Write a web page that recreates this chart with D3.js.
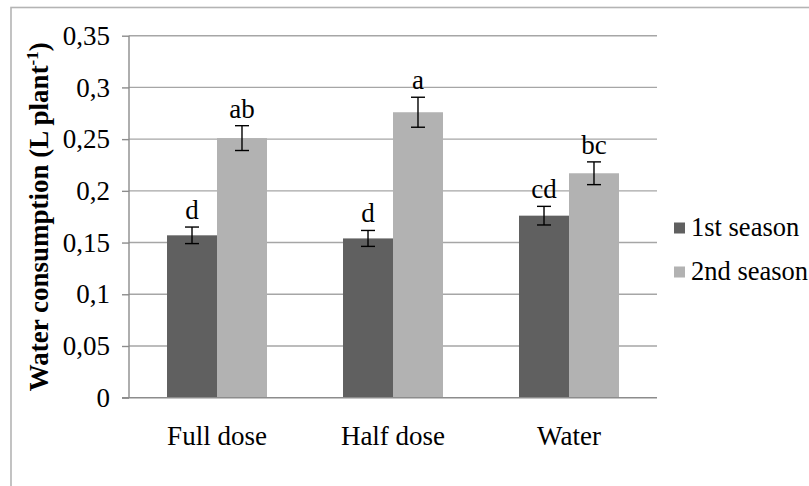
<!DOCTYPE html>
<html>
<head>
<meta charset="utf-8">
<script src="https://cdn.jsdelivr.net/npm/d3@7/dist/d3.min.js"></script>
<style>
  html, body { margin: 0; padding: 0; background: #fff; }
  svg { display: block; }
</style>
</head>
<body>
<svg id="chart" width="809" height="486" font-family="'Liberation Serif', serif"></svg>
<script>
const categories = ["Full dose", "Half dose", "Water"];
const seriesNames = ["1st season", "2nd season"];
const season1 = [0.157, 0.154, 0.176];
const season2 = [0.251, 0.276, 0.217];
const season1Err = [0.008, 0.0077, 0.009];
const season2Err = [0.012, 0.0145, 0.011];
const season1Letters = ["d", "d", "cd"];
const season2Letters = ["ab", "a", "bc"];
const yTicks = [0, 0.05, 0.1, 0.15, 0.2, 0.25, 0.3, 0.35];
const yTickLabels = ["0", "0,05", "0,1", "0,15", "0,2", "0,25", "0,3", "0,35"];
const colors = ["#606060", "#b2b2b2"];

(function () {
const FONT = "'Liberation Serif', serif";
const rows = categories.map((c, i) => ({
  cat: c,
  vals: [
    { s: seriesNames[0], v: season1[i], e: season1Err[i], l: season1Letters[i] },
    { s: seriesNames[1], v: season2[i], e: season2Err[i], l: season2Letters[i] }
  ]
}));

const svg = d3.select("#chart");
const pL = 129, pR = 657, pT = 35.7, pB = 397.7;

// outer frame
svg.append("rect").attr("x", 11).attr("y", 7.5).attr("width", 900).attr("height", 600)
  .attr("fill", "none").attr("stroke", "#b4b4b4").attr("stroke-width", 1.6);

const y = d3.scaleLinear().domain([0, 0.35]).range([pB, pT]);
const x0 = d3.scaleBand().domain(categories).range([pL, pR])
  .paddingInner(0.432).paddingOuter(0.216);
const x1 = d3.scaleBand().domain(seriesNames).range([0, x0.bandwidth()]);

// gridlines
svg.append("g").selectAll("line").data(yTicks.filter(t => t > 0)).join("line")
  .attr("x1", pL).attr("x2", pR)
  .attr("y1", d => y(d)).attr("y2", d => y(d))
  .attr("stroke", "#a6a6a6").attr("stroke-width", 1.4);

// y axis
const yAxis = d3.axisLeft(y).tickValues(yTicks)
  .tickFormat((d, i) => yTickLabels[i]).tickSize(7).tickPadding(12);
const gy = svg.append("g").attr("transform", `translate(${pL},0)`).call(yAxis)
  .attr("font-family", FONT).attr("font-size", 27);
gy.select(".domain").attr("stroke", "#8c8c8c").attr("stroke-width", 1.4)
  .attr("d", `M0,${pT}V${pB}`);
gy.selectAll(".tick line").attr("stroke", "#8c8c8c").attr("stroke-width", 1.4);
gy.selectAll(".tick text").attr("fill", "#000");

// bars
const groups = svg.append("g").selectAll("g").data(rows).join("g")
  .attr("transform", d => `translate(${x0(d.cat)},0)`);
groups.selectAll("rect").data(d => d.vals).join("rect")
  .attr("x", d => x1(d.s)).attr("width", x1.bandwidth())
  .attr("y", d => y(d.v)).attr("height", d => y(0) - y(d.v))
  .attr("fill", (d, i) => colors[i]);

// error bars
const eb = groups.selectAll("g.err").data(d => d.vals).join("g").attr("class", "err");
const cx = d => x1(d.s) + x1.bandwidth() / 2;
eb.append("line")
  .attr("x1", cx).attr("x2", cx)
  .attr("y1", d => y(d.v + d.e)).attr("y2", d => y(d.v - d.e))
  .attr("stroke", "#000").attr("stroke-width", 1.4);
eb.append("line")
  .attr("x1", d => cx(d) - 7).attr("x2", d => cx(d) + 7)
  .attr("y1", d => y(d.v + d.e)).attr("y2", d => y(d.v + d.e))
  .attr("stroke", "#000").attr("stroke-width", 1.4);
eb.append("line")
  .attr("x1", d => cx(d) - 7).attr("x2", d => cx(d) + 7)
  .attr("y1", d => y(d.v - d.e)).attr("y2", d => y(d.v - d.e))
  .attr("stroke", "#000").attr("stroke-width", 1.4);
eb.append("text")
  .attr("x", cx)
  .attr("y", d => y(d.v + d.e) - 8)
  .attr("text-anchor", "middle").attr("font-size", 27).attr("font-family", FONT)
  .text(d => d.l);

// x axis
svg.append("line").attr("x1", pL - 7).attr("x2", pR)
  .attr("y1", pB).attr("y2", pB)
  .attr("stroke", "#8c8c8c").attr("stroke-width", 1.4);
svg.append("g").selectAll("text").data(categories).join("text")
  .attr("x", d => x0(d) + x0.bandwidth() / 2).attr("y", 445)
  .attr("text-anchor", "middle").attr("font-size", 27).attr("font-family", FONT)
  .text(d => d);

// y title
const title = svg.append("text")
  .attr("transform", `translate(48,${(pT + pB) / 2}) rotate(-90)`)
  .attr("text-anchor", "middle").attr("font-size", 27).attr("font-weight", "bold")
  .attr("font-family", FONT);
title.append("tspan").text("Water consumption (L plant");
title.append("tspan").attr("font-size", 17).attr("dy", -10).text("-1");
title.append("tspan").attr("dy", 10).text(")");

// legend
const legend = svg.append("g").selectAll("g").data(seriesNames).join("g")
  .attr("transform", (d, i) => `translate(674,${228 + i * 44})`);
legend.append("rect").attr("x", 0).attr("y", -5.5).attr("width", 11).attr("height", 11)
  .attr("fill", (d, i) => colors[i]);
legend.append("text").attr("x", 17).attr("y", 8).attr("font-size", 26.5)
  .attr("font-family", FONT).text(d => d);
})();
</script>
</body>
</html>
